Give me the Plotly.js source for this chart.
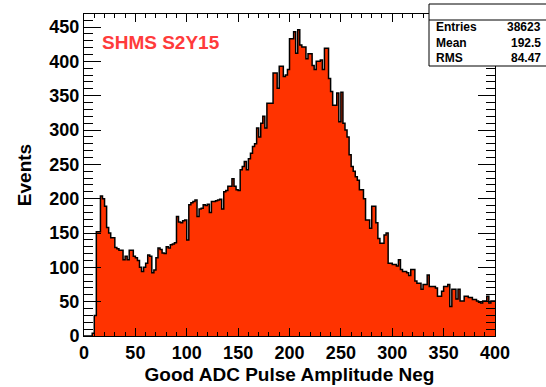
<!DOCTYPE html>
<html>
<head>
<meta charset="utf-8">
<script src="https://cdn.plot.ly/plotly-3.0.1.min.js"></script>
<style>html,body{margin:0;padding:0;background:#fff;}#chart{width:546px;height:387px;}</style>
</head>
<body>
<div id="chart"></div>
<script>
// Histogram: 200 bins of width 2 from 0 to 400
const xMin = 0;
const binWidth = 2;
const counts = [
  0, 0, 0, 0, 4, 30, 152, 152, 204, 200,
  189, 158, 150, 143, 143, 129, 127, 125, 125, 111,
  116, 111, 125, 125, 116, 114, 110, 100, 94, 100,
  106, 118, 116, 92, 96, 114, 128, 126, 121, 120,
  130, 128, 133, 134, 136, 174, 166, 165, 168, 169,
  140, 191, 194, 196, 198, 174, 185, 186, 191, 190,
  192, 180, 196, 196, 197, 198, 199, 185, 210, 212,
  218, 218, 229, 218, 213, 212, 242, 247, 254, 242,
  258, 266, 276, 280, 303, 290, 310, 320, 303, 339,
  339, 339, 383, 383, 361, 393, 393, 378, 380, 388,
  433, 433, 443, 412, 446, 424, 421, 421, 404, 411,
  411, 394, 388, 400, 400, 402, 388, 419, 419, 375,
  356, 336, 336, 354, 312, 355, 310, 300, 290, 264,
  247, 240, 232, 227, 213, 213, 200, 169, 169, 157,
  189, 189, 165, 142, 135, 135, 147, 150, 106, 106,
  104, 104, 102, 111, 97, 94, 94, 92, 88, 97,
  97, 80, 77, 77, 68, 75, 75, 89, 72, 72,
  72, 70, 58, 58, 65, 72, 72, 75, 43, 68,
  68, 54, 68, 51, 51, 58, 58, 56, 56, 53,
  53, 51, 49, 48, 51, 51, 58, 48, 51, 51
];
const xTickVals = [0, 50, 100, 150, 200, 250, 300, 350, 400];
const yTickVals = [0, 50, 100, 150, 200, 250, 300, 350, 400, 450];
const histTitle = 'SHMS S2Y15';
const xTitle = 'Good ADC Pulse Amplitude Neg';
const yTitle = 'Events';
const statsLabels = ['Entries', 'Mean', 'RMS'];
const statsValues = ['38623', '192.5', '84.47'];

// step outline built from bin edges
const xs = [], ys = [];
counts.forEach((c, i) => { xs.push(xMin + i * binWidth); ys.push(c); });
xs.push(xMin + counts.length * binWidth); ys.push(counts[counts.length - 1]);

const W = 546, H = 387;
const L = 84, R = 495, T = 14, B = 336;
const px = x => (x - L) / (R - L);
const py = y => (B - y) / (B - T);

const FONT = 'Liberation Sans, Arial, Helvetica, sans-serif';

const trace = {
  type: 'scatter', mode: 'lines', x: xs, y: ys,
  line: {shape: 'hv', color: '#000', width: 1.5},
  fill: 'tozeroy', fillcolor: '#ff3300',
  hoverinfo: 'skip', showlegend: false
};

const shapes = [
  {type: 'rect', xref: 'paper', yref: 'paper', x0: px(429), x1: px(550), y0: py(66), y1: py(4),
   line: {color: '#000', width: 1}, fillcolor: '#fff', layer: 'above'},
  {type: 'line', xref: 'paper', yref: 'paper', x0: px(429), x1: px(550), y0: py(20), y1: py(20),
   line: {color: '#000', width: 1}, layer: 'above'}
];

const annotations = [
  {xref: 'paper', yref: 'paper', x: px(100), y: py(42), xanchor: 'left', yanchor: 'middle',
   text: histTitle, showarrow: false,
   font: {family: FONT, size: 19, weight: 'bold', color: '#ff3b3b'}}
];
const rowY = [27, 43, 58];
statsLabels.forEach((lab, i) => {
  annotations.push({xref: 'paper', yref: 'paper', x: px(434), y: py(rowY[i]), xanchor: 'left', yanchor: 'middle',
    text: lab, showarrow: false, font: {family: FONT, size: 12, weight: 'bold', color: '#000'}});
  annotations.push({xref: 'paper', yref: 'paper', x: px(543), y: py(rowY[i]), xanchor: 'right', yanchor: 'middle',
    text: statsValues[i], showarrow: false, font: {family: FONT, size: 12, weight: 'bold', color: '#000'}});
});

const layout = {
  width: W, height: H,
  margin: {l: L, r: W - R, t: T, b: H - B, pad: 0},
  paper_bgcolor: '#fff', plot_bgcolor: '#fff',
  showlegend: false,
  xaxis: {
    range: [0, 400], tickvals: xTickVals, ticks: 'inside', ticklen: 8, tickwidth: 1, tickcolor: '#000',
    showline: true, linecolor: '#000', linewidth: 1, mirror: 'ticks',
    showgrid: false, zeroline: false,
    minor: {dtick: 10, ticks: 'inside', ticklen: 4, tickcolor: '#000', tickwidth: 1, showgrid: false},
    tickfont: {family: FONT, size: 18, weight: 'bold', color: '#000'},
    title: {text: xTitle, font: {family: FONT, size: 19, weight: 'bold', color: '#000'}, standoff: 6}
  },
  yaxis: {
    range: [0, 469], tickvals: yTickVals, ticks: 'inside', ticklen: 17, tickwidth: 1, tickcolor: '#000',
    showline: true, linecolor: '#000', linewidth: 1, mirror: 'ticks',
    showgrid: false, zeroline: false,
    minor: {dtick: 10, ticks: 'inside', ticklen: 9, tickcolor: '#000', tickwidth: 1, showgrid: false},
    tickfont: {family: FONT, size: 18, weight: 'bold', color: '#000'},
    title: {text: yTitle, font: {family: FONT, size: 19, weight: 'bold', color: '#000'}, standoff: 12}
  },
  shapes: shapes,
  annotations: annotations
};

Plotly.newPlot('chart', [trace], layout, {staticPlot: true, displayModeBar: false});
</script>
</body>
</html>
